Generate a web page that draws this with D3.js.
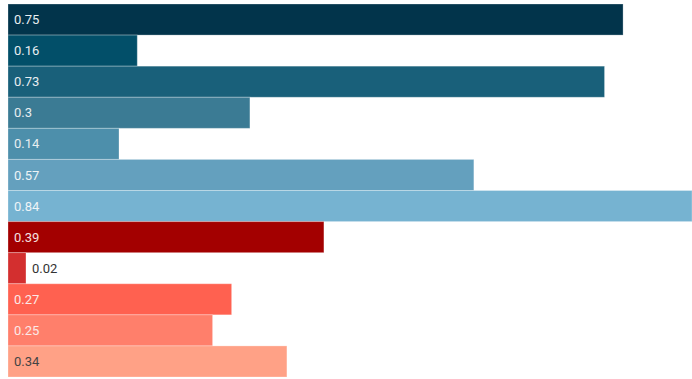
<!DOCTYPE html>
<html><head><meta charset="utf-8">
<script src="https://cdn.jsdelivr.net/npm/d3@7"></script>
<style>html,body{margin:0;padding:0;background:#fff;}svg{display:block;}</style>
</head><body>
<svg id="chart" width="692" height="379"></svg>
<script>
const ids = ["a","b","c","d","e","f","g","h","i","j","k","l"];
const values = [0.7531, 0.1583, 0.7304, 0.2962, 0.1359, 0.5704, 0.8375, 0.3868, 0.0220, 0.2738, 0.2505, 0.3415];
const colors = ["#02344b","#024f69","#19607a","#3b7b94","#4d8fab","#64a0be","#76b3d1","#a30000","#d32f2f","#ff6150","#ff7f6b","#ffa186"];
const labelColors = ["#e8eef1","#e8eef1","#e8eef1","#e8eef1","#e8eef1","#eef4f7","#eef4f7","#f5e0e0","#333333","#fbe9e7","#fbe9e7","#444444"];

const svg = d3.select("#chart");
const W = 692, H = 379;
const x = d3.scaleLinear().domain([0, d3.max(values)]).range([8, W]);
const y = d3.scaleBand().domain(ids).range([4, 377]).padding(0);

const g = svg.append("g");
g.selectAll("rect").data(values).join("rect")
  .attr("x", x(0))
  .attr("y", (d,i) => y(ids[i]))
  .attr("width", d => x(d) - x(0))
  .attr("height", y.bandwidth())
  .attr("fill", (d,i) => colors[i])
  .attr("stroke", "rgba(255,255,255,0.28)")
  .attr("stroke-width", 1);

g.selectAll("text").data(values).join("text")
  .attr("x", d => (x(d) - x(0) < 40) ? x(d) + 6 : x(0) + 6)
  .attr("y", (d,i) => y(ids[i]) + y.bandwidth()/2)
  .attr("dy", "0.35em")
  .attr("font-family", "Roboto, sans-serif")
  .attr("font-size", 13)
  .attr("fill", (d,i) => labelColors[i])
  .text(d => String(+d.toFixed(2)));
</script>
</body></html>
